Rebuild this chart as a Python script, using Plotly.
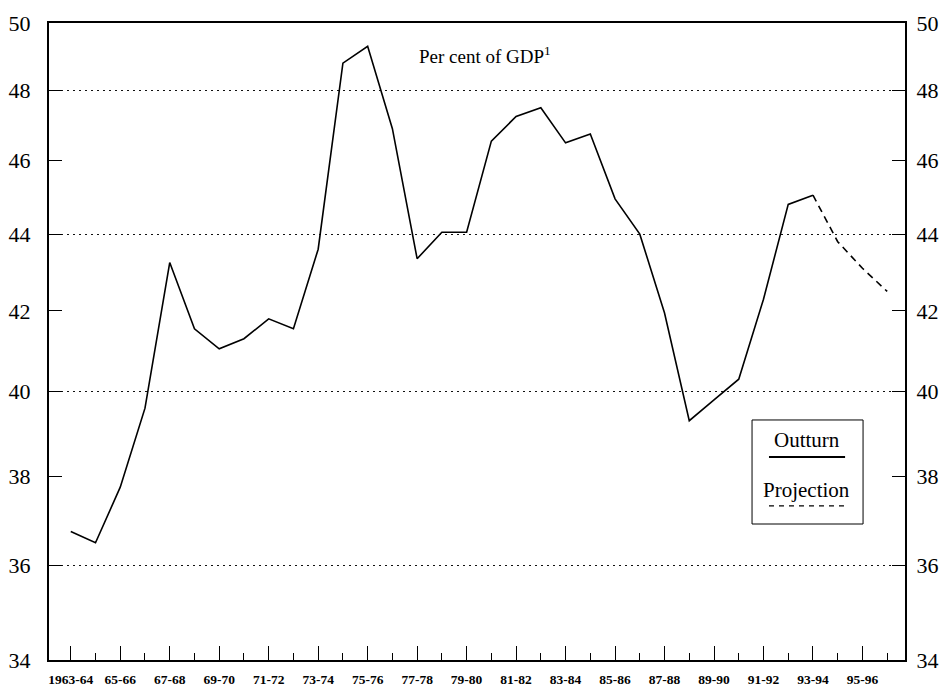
import plotly.graph_objects as go
import math

# ---- data ----
years = ["1963-64", "64-65", "65-66", "66-67", "67-68", "68-69", "69-70", "70-71",
         "71-72", "72-73", "73-74", "74-75", "75-76", "76-77", "77-78", "78-79",
         "79-80", "80-81", "81-82", "82-83", "83-84", "84-85", "85-86", "86-87",
         "87-88", "88-89", "89-90", "90-91", "91-92", "92-93", "93-94", "94-95",
         "95-96", "96-97"]
outturn = [36.75, 36.5, 37.75, 39.6, 43.25, 41.55, 41.05, 41.3, 41.8, 41.55,
           43.6, 48.8, 49.3, 46.9, 43.35, 44.05, 44.05, 46.55, 47.25, 47.5,
           46.5, 46.75, 44.95, 44.0, 41.95, 39.3, 39.8, 40.3, 42.3, 44.8, 45.05]
projection = [45.05, 43.8, 43.1, 42.5]
y_ticks = [34, 36, 38, 40, 42, 44, 46, 48, 50]
y_grid = [36, 40, 44, 48]
title_text = "Per cent of GDP<sup>1</sup>"
legend_labels = ["Outturn", "Projection"]

x_all = list(range(len(years)))
x_out = x_all[:len(outturn)]
x_proj = x_all[len(outturn) - 1:len(outturn) - 1 + len(projection)]

SERIF = "Liberation Serif, Times New Roman, serif"

fig = go.Figure()
fig.add_trace(go.Scatter(x=x_out, y=outturn, mode="lines",
                         line=dict(color="black", width=1.6), showlegend=False))
fig.add_trace(go.Scatter(x=x_proj, y=projection, mode="lines",
                         line=dict(color="black", width=1.6, dash="7px,5px"),
                         showlegend=False))
# anchor trace for the right-hand axis
fig.add_trace(go.Scatter(x=x_proj, y=projection, mode="lines", yaxis="y2",
                         line=dict(color="rgba(0,0,0,0)", width=0),
                         showlegend=False, hoverinfo="skip"))

yrange = [math.log10(y_ticks[0]), math.log10(y_ticks[-1])]

xmajor = [i for i in x_all if i % 2 == 0]
xminor = [i for i in x_all if i % 2 == 1]

fig.update_layout(
    width=946, height=686,
    margin=dict(l=49, r=41, t=23, b=26),
    plot_bgcolor="white", paper_bgcolor="white",
    font=dict(family=SERIF, color="black"),
    xaxis=dict(
        range=[-0.88, 33.72], showgrid=False, zeroline=False,
        showline=True, linecolor="black", linewidth=2, mirror=True,
        tickmode="array", tickvals=xmajor, ticktext=[years[i] for i in xmajor],
        ticks="inside", ticklen=14, tickwidth=1, tickcolor="black",
        tickfont=dict(family=SERIF, size=13.5, color="black", weight="bold"),
        ticklabelstandoff=6, automargin=False,
        minor=dict(tickmode="array", tickvals=xminor, ticks="inside",
                   ticklen=7, tickwidth=1, tickcolor="black", showgrid=False),
    ),
    yaxis=dict(
        type="log", range=yrange, showgrid=False, zeroline=False,
        showline=True, linecolor="black", linewidth=2,
        tickmode="array", tickvals=y_ticks, ticktext=[str(v) for v in y_ticks],
        ticks="inside", ticklen=13, tickwidth=1, tickcolor="black",
        tickfont=dict(family=SERIF, size=22, color="black"),
        ticklabelstandoff=12, automargin=False,
        minor=dict(tickmode="array", tickvals=y_grid, ticks="", showgrid=True,
                   gridcolor="#111", gridwidth=1, griddash="2px,4px"),
    ),
    yaxis2=dict(
        type="log", range=yrange, overlaying="y", side="right",
        showgrid=False, zeroline=False,
        showline=True, linecolor="black", linewidth=2,
        tickmode="array", tickvals=y_ticks, ticktext=[str(v) for v in y_ticks],
        ticks="inside", ticklen=13, tickwidth=1, tickcolor="black",
        tickfont=dict(family=SERIF, size=22, color="black"),
        ticklabelstandoff=5, automargin=False,
    ),
    showlegend=False,
)

# title inside the plot
fig.add_annotation(x=0.509, y=0.95, xref="paper", yref="paper", text=title_text,
                   xanchor="center", yanchor="middle",
                   showarrow=False, font=dict(family=SERIF, size=19, color="black"))

# manual legend (text above line sample, boxed)
fig.add_shape(type="rect", xref="paper", yref="paper", x0=0.8213, x1=0.951,
              y0=0.2135, y1=0.3768, line=dict(color="black", width=1),
              fillcolor="rgba(0,0,0,0)", layer="above")
fig.add_annotation(x=0.8855, y=0.3454, xref="paper", yref="paper",
                   text=legend_labels[0], showarrow=False,
                   xanchor="center", yanchor="middle",
                   font=dict(family=SERIF, size=21, color="black"))
fig.add_shape(type="line", xref="paper", yref="paper", x0=0.8411, x1=0.93,
              y0=0.3187, y1=0.3187, line=dict(color="black", width=2))
fig.add_annotation(x=0.8855, y=0.2669, xref="paper", yref="paper",
                   text=legend_labels[1], showarrow=False,
                   xanchor="center", yanchor="middle",
                   font=dict(family=SERIF, size=21, color="black"))
fig.add_shape(type="line", xref="paper", yref="paper", x0=0.8411, x1=0.93,
              y0=0.2418, y1=0.2418, line=dict(color="black", width=1.2, dash="5px,5px"))

fig.write_html("out.html", config={"displayModeBar": False},
               post_script="document.body.style.margin='0px';")
